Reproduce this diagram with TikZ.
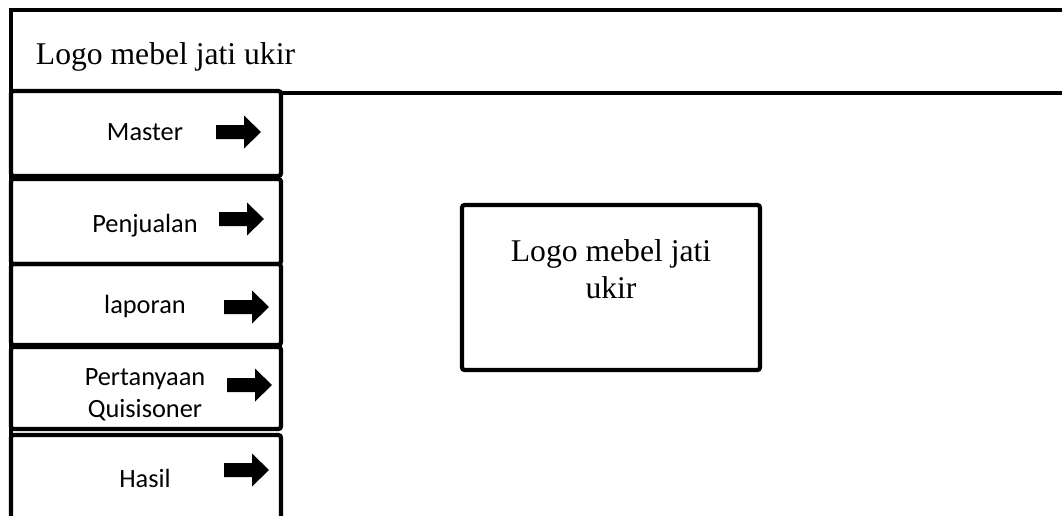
\documentclass[tikz,border=0pt]{standalone}
\usepackage{fontspec}
\setmainfont{Liberation Serif}
\newfontfamily\menufont{Carlito}

\begin{document}
\begin{tikzpicture}[x=0.02cm,y=-0.02cm,line width=2.4pt,menubox/.style={draw,rounded corners=1.5pt},logo/.style={font=\fontsize{18}{20.5}\selectfont,align=center},menu/.style={font=\menufont\fontsize{15}{18.2}\selectfont,align=center,anchor=base},blockarrow/.pic={\fill (-22,-7)--(6,-7)--(6,-16.5)--(23,0)--(6,16.5)--(6,7)--(-22,7)--cycle;}]
\useasboundingbox (0,0) rectangle (1062,515);\clip (0,0) rectangle (1062,515);
% header frame
\draw (11,540)--(11,10)--(1070,10);\draw (281,93)--(1070,93);
\node[logo,anchor=base west] (title) at (28,64) {Logo mebel jati ukir};
% menu boxes
\draw[menubox] (11,91) rectangle (281,176);\draw[menubox] (11,179) rectangle (281,264);\draw[menubox] (11,264) rectangle (281,345);\draw[menubox] (11,347) rectangle (281,429);\draw[menubox] (11,435) rectangle (281,540);
\node[menu] (master) at (145,140) {Master};\node[menu] (penjualan) at (145,232) {Penjualan};\node[menu] (laporan) at (145,313) {laporan};\node[menu] (pertanyaan) at (145,417) {Pertanyaan\\Quisisoner};\node[menu] (hasil) at (145,487) {Hasil};
\pic at (238,132) {blockarrow};\pic at (241,219) {blockarrow};\pic at (246,307) {blockarrow};\pic at (249,385) {blockarrow};\pic at (246,470) {blockarrow};
% logo in the content area
\draw[menubox] (462,205) rectangle (760,370);
\node[logo,anchor=base] (logo) at (611,298) {Logo mebel jati\\ukir};
\end{tikzpicture}
\end{document}
